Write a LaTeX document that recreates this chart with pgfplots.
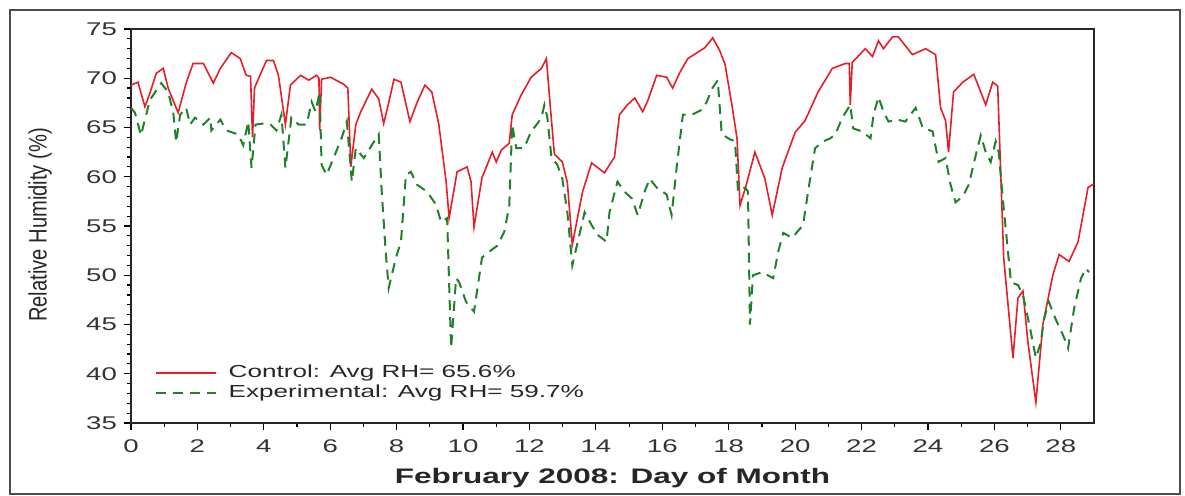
\documentclass[border=0pt]{standalone}
\usepackage{fontspec}
\setmainfont[FakeStretch=1.5]{Liberation Sans}
\newfontfamily\plainsans{Liberation Sans}
\usepackage{pgfplots}
\pgfplotsset{compat=1.18}
\definecolor{ctrl}{RGB}{230,30,40}
\definecolor{expt}{RGB}{30,130,40}
\begin{document}
\begin{tikzpicture}
\useasboundingbox (-65.5pt,-36.5pt) rectangle (527pt,211.5pt);
\draw[gray!60!black, line width=1pt] (-60.5pt,-35.5pt) rectangle (524.5pt,206.5pt);
\begin{axis}[
    name=ax, at={(0,0)}, anchor=south west,
    scale only axis, width=481.5pt, height=197pt,
    xmin=0, xmax=29, ymin=35, ymax=75,
    xtick={0,2,...,28}, minor xtick={1,3,...,27},
    ytick={35,40,...,75}, minor y tick num=4,
    tick align=outside, tick pos=left,
    major tick length=3.5pt, minor tick length=2pt,
    every tick/.style={black, line width=0.6pt},
    axis line style={black!85, line width=0.8pt},
    /pgf/number format/assume math mode=true,
    tick label style={font=\fontsize{9.2}{11}\selectfont, text=black!80},
    xticklabel style={yshift=-1.5pt},
    legend style={draw=none, fill=none, at={(0.018,0.168)}, anchor=north west,
        font=\fontsize{8.7}{10}\selectfont, row sep=-2pt,
        nodes={inner xsep=6pt, text=black!85}},
    legend cell align=left,
    legend image code/.code={\draw[#1] (0pt,0pt) -- (30pt,0pt);},
]
\addplot[ctrl, line width=0.8pt] coordinates {
(0.00,69.3)(0.21,69.6)(0.42,67.1)(0.57,68.5)(0.76,70.5)(0.97,71.0)(1.12,69.0)(1.42,66.5)(1.66,69.5)(1.87,71.5)
(2.18,71.5)(2.33,70.5)(2.48,69.5)(2.69,71.0)(3.02,72.6)(3.29,72.0)(3.47,70.3)(3.60,70.2)(3.66,64.0)(3.72,69.0)
(3.78,69.5)(4.08,71.8)(4.29,71.8)(4.44,70.3)(4.65,65.3)(4.80,69.3)(5.11,70.3)(5.35,69.8)(5.59,70.3)(5.66,70.0)
(5.68,64.7)(5.74,69.9)(6.01,70.1)(6.40,69.4)(6.53,69.0)(6.62,61.0)(6.77,65.3)(6.92,66.6)(7.25,68.9)(7.46,67.9)
(7.61,65.4)(7.76,67.5)(7.92,69.9)(8.13,69.6)(8.40,65.6)(8.61,67.5)(8.85,69.3)(9.06,68.6)(9.27,65.3)(9.49,59.5)
(9.58,55.8)(9.82,60.5)(10.12,61.0)(10.24,59.5)(10.33,54.9)(10.57,59.9)(10.88,62.5)(11.00,61.5)(11.15,62.7)(11.39,63.4)
(11.48,66.3)(11.75,68.3)(12.05,70.1)(12.36,71.0)(12.51,72.0)(12.63,67.0)(12.75,62.3)(12.99,61.5)(13.14,59.4)(13.29,53.1)
(13.60,58.5)(13.87,61.4)(14.26,60.4)(14.56,62.0)(14.71,66.3)(14.95,67.3)(15.17,68.0)(15.41,66.6)(15.56,67.7)(15.83,70.3)
(16.13,70.1)(16.31,69.0)(16.53,70.6)(16.77,72.0)(17.28,73.1)(17.52,74.1)(17.73,72.8)(17.89,71.4)(18.10,67.2)(18.25,63.9)
(18.34,57.1)(18.49,58.7)(18.79,62.5)(19.09,59.8)(19.31,56.1)(19.61,60.9)(20.00,64.5)(20.30,65.7)(20.69,68.6)(21.12,71.0)
(21.51,71.5)(21.63,71.5)(21.66,67.3)(21.72,71.6)(22.11,73.0)(22.33,72.2)(22.51,73.8)(22.66,73.0)(22.93,74.2)(23.11,74.2)
(23.53,72.4)(23.93,73.0)(24.23,72.4)(24.38,67.0)(24.53,65.7)(24.62,62.5)(24.77,68.6)(25.05,69.6)(25.38,70.4)(25.59,68.6)
(25.74,67.3)(25.95,69.6)(26.10,69.2)(26.28,51.8)(26.56,41.6)(26.71,47.7)(26.86,48.4)(27.01,43.2)(27.25,37.1)(27.46,45.0)
(27.76,50.0)(27.95,52.1)(28.25,51.4)(28.52,53.4)(28.82,58.9)(29.00,59.3)
};
\addlegendentry{Control: Avg RH= 65.6\%}
\addplot[expt, line width=1pt, dash pattern=on 5pt off 3.5pt] coordinates {
(0.00,67.0)(0.12,66.5)(0.30,64.2)(0.57,67.8)(0.91,69.5)(1.12,68.6)(1.27,66.6)(1.36,63.5)(1.48,66.3)(1.66,67.0)
(1.78,65.3)(1.93,66.0)(2.18,65.3)(2.39,66.0)(2.42,64.7)(2.69,65.8)(2.87,64.7)(3.23,64.3)(3.38,63.2)(3.53,65.6)
(3.63,60.9)(3.75,65.3)(3.99,65.4)(4.20,65.3)(4.38,64.7)(4.53,66.3)(4.65,60.9)(4.83,66.0)(5.05,65.3)(5.29,65.3)
(5.44,67.6)(5.56,66.6)(5.68,68.6)(5.74,61.2)(5.89,60.2)(6.10,61.9)(6.34,63.9)(6.50,65.6)(6.65,59.5)(6.77,62.9)
(7.01,61.9)(7.25,63.2)(7.46,64.3)(7.55,58.5)(7.67,52.4)(7.76,48.7)(7.98,51.8)(8.13,53.4)(8.28,60.2)(8.43,60.5)
(8.61,59.2)(8.91,58.5)(9.18,57.2)(9.34,55.4)(9.52,55.8)(9.64,42.6)(9.79,49.7)(9.88,49.3)(10.09,47.3)(10.33,46.3)
(10.57,51.8)(10.79,52.4)(11.03,53.0)(11.24,54.4)(11.39,57.0)(11.48,65.3)(11.60,62.9)(11.84,62.9)(12.05,64.6)(12.24,65.4)
(12.36,66.0)(12.45,67.3)(12.54,66.0)(12.66,62.0)(12.84,61.2)(12.99,59.8)(13.14,56.4)(13.29,51.0)(13.66,56.4)(13.87,55.1)
(14.05,54.1)(14.32,53.4)(14.41,56.4)(14.65,59.5)(14.86,58.5)(15.08,57.8)(15.26,56.1)(15.47,58.5)(15.62,59.8)(15.83,58.9)
(16.13,58.2)(16.28,56.1)(16.44,61.2)(16.62,66.3)(16.89,66.3)(17.19,66.8)(17.34,67.6)(17.49,68.9)(17.67,69.8)(17.79,64.3)
(18.04,63.8)(18.19,63.6)(18.28,58.5)(18.49,58.9)(18.58,58.5)(18.64,45.0)(18.73,50.0)(19.00,50.3)(19.34,49.7)(19.49,52.4)
(19.64,54.3)(19.91,53.8)(20.24,55.1)(20.39,58.5)(20.60,62.9)(20.85,63.6)(21.06,63.9)(21.21,64.3)(21.42,66.0)(21.66,67.3)
(21.75,64.9)(22.02,64.6)(22.27,63.9)(22.36,66.3)(22.51,68.1)(22.66,66.6)(22.81,65.6)(23.08,65.8)(23.32,65.6)(23.63,67.0)
(23.84,65.0)(24.14,64.6)(24.32,61.5)(24.53,61.9)(24.68,59.2)(24.83,57.4)(25.05,58.0)(25.23,59.2)(25.44,62.2)(25.59,64.2)
(25.74,62.5)(25.89,61.5)(26.04,63.6)(26.13,62.5)(26.28,56.8)(26.50,49.3)(26.71,49.0)(26.86,48.0)(26.95,46.6)(27.10,44.2)
(27.25,41.6)(27.40,43.2)(27.49,45.5)(27.64,47.3)(27.85,45.5)(28.07,43.9)(28.22,42.6)(28.40,46.6)(28.61,49.7)(28.76,50.7)
(28.85,50.3)
};
\addlegendentry{Experimental: Avg RH= 59.7\%}
\end{axis}
\node[rotate=90, text=black!85] at (-45.5pt,99pt) {\scalebox{0.8}[1]{\plainsans\fontsize{12.6}{14}\selectfont Relative Humidity (\%)}};
\node[font=\bfseries\fontsize{10.5}{12}\selectfont, text=black!85] at (240.75pt,-27.5pt) {February 2008: Day of Month};
\end{tikzpicture}
\end{document}
